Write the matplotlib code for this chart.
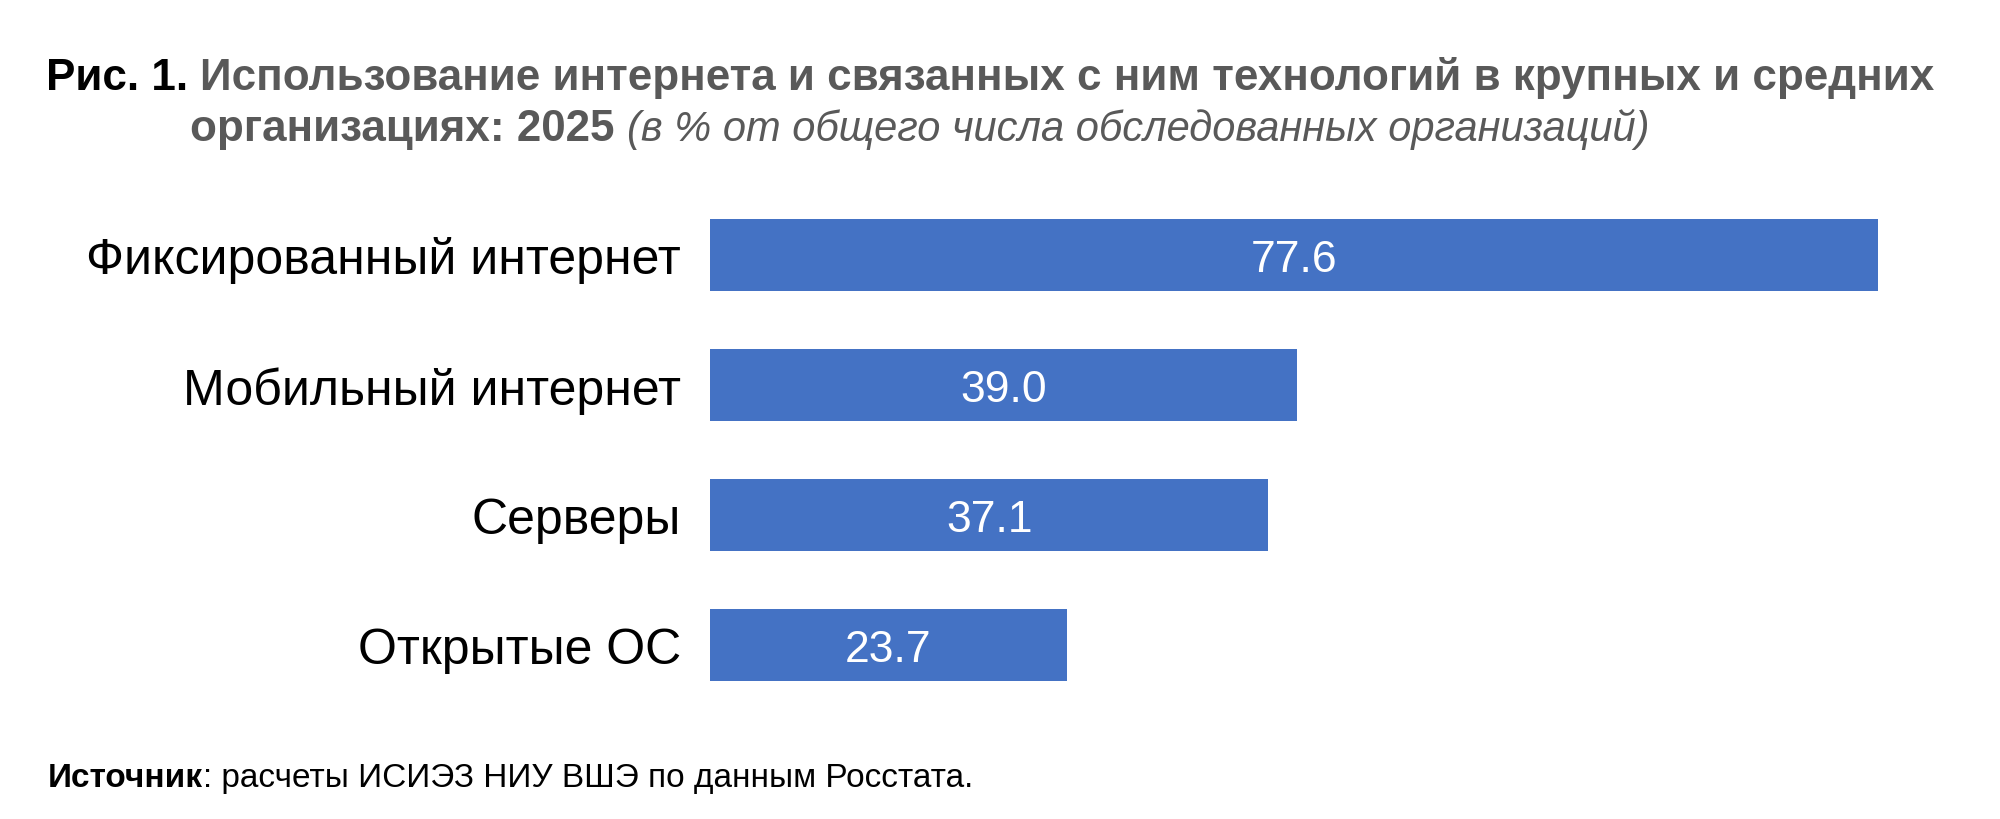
import matplotlib
matplotlib.use("Agg")
import matplotlib.pyplot as plt

categories = ["Фиксированный интернет", "Мобильный интернет", "Серверы", "Открытые ОС"]
values = [77.6, 39.0, 37.1, 23.7]
value_labels = ["77.6", "39.0", "37.1", "23.7"]

title_prefix = "Рис. 1. "
title_line1 = "Использование интернета и связанных с ним технологий в крупных и средних"
title_line2_bold = "организациях: 2025 "
title_line2_italic = "(в % от общего числа обследованных организаций)"
source_bold = "Источник"
source_rest = ": расчеты ИСИЭЗ НИУ ВШЭ по данным Росстата."

BAR = "#4472C4"
GRAY = "#595959"
FONT = "Liberation Sans"
plt.rcParams['font.family'] = [FONT, 'DejaVu Sans']

W, H = 2000, 820
fig = plt.figure(figsize=(20, 8.2), dpi=100)
fig.patch.set_facecolor("white")

# axes: x 710..1914 px (0..80), y 191..711 px from top
ax = fig.add_axes([710 / W, (H - 711) / H, 1204 / W, 520 / H])
y = list(range(len(categories)))
ax.barh(y, values, height=0.554, color=BAR, zorder=2)
ax.set_xlim(0, 80)
ax.set_ylim(len(categories) - 0.5, -0.5)
ax.set_yticks(y)
ax.set_yticklabels(categories, fontsize=36, color="black")
ax.tick_params(axis="y", length=0, pad=21)
ax.set_xticks([])
for s in ax.spines.values():
    s.set_visible(False)
for yi, v, lab in zip(y, values, value_labels):
    ax.text(v / 2, yi, lab, ha="center", va="center_baseline",
            color="white", fontsize=32)

fig.canvas.draw()
renderer = fig.canvas.get_renderer()


def runs(x_px, y_px, parts):
    x = x_px
    for txt, kw in parts:
        t = fig.text(x / W, (H - y_px) / H, txt, ha="left", va="baseline",
                     fontsize=kw.get("size"), color=kw.get("color", "black"),
                     fontweight=kw.get("weight", "normal"),
                     fontstyle=kw.get("style", "normal"))
        bb = t.get_window_extent(renderer=renderer)
        x = bb.x1


runs(46, 90, [(title_prefix, dict(weight="bold", color="black", size=31.7)),
              (title_line1, dict(weight="bold", color=GRAY, size=31.7))])
runs(190, 141, [(title_line2_bold, dict(weight="bold", color=GRAY, size=31.7)),
                (title_line2_italic, dict(style="italic", color=GRAY, size=30))])
runs(48, 787, [(source_bold, dict(weight="bold", size=24)),
               (source_rest, dict(size=24))])

fig.savefig("out.png", dpi=100, facecolor="white")
